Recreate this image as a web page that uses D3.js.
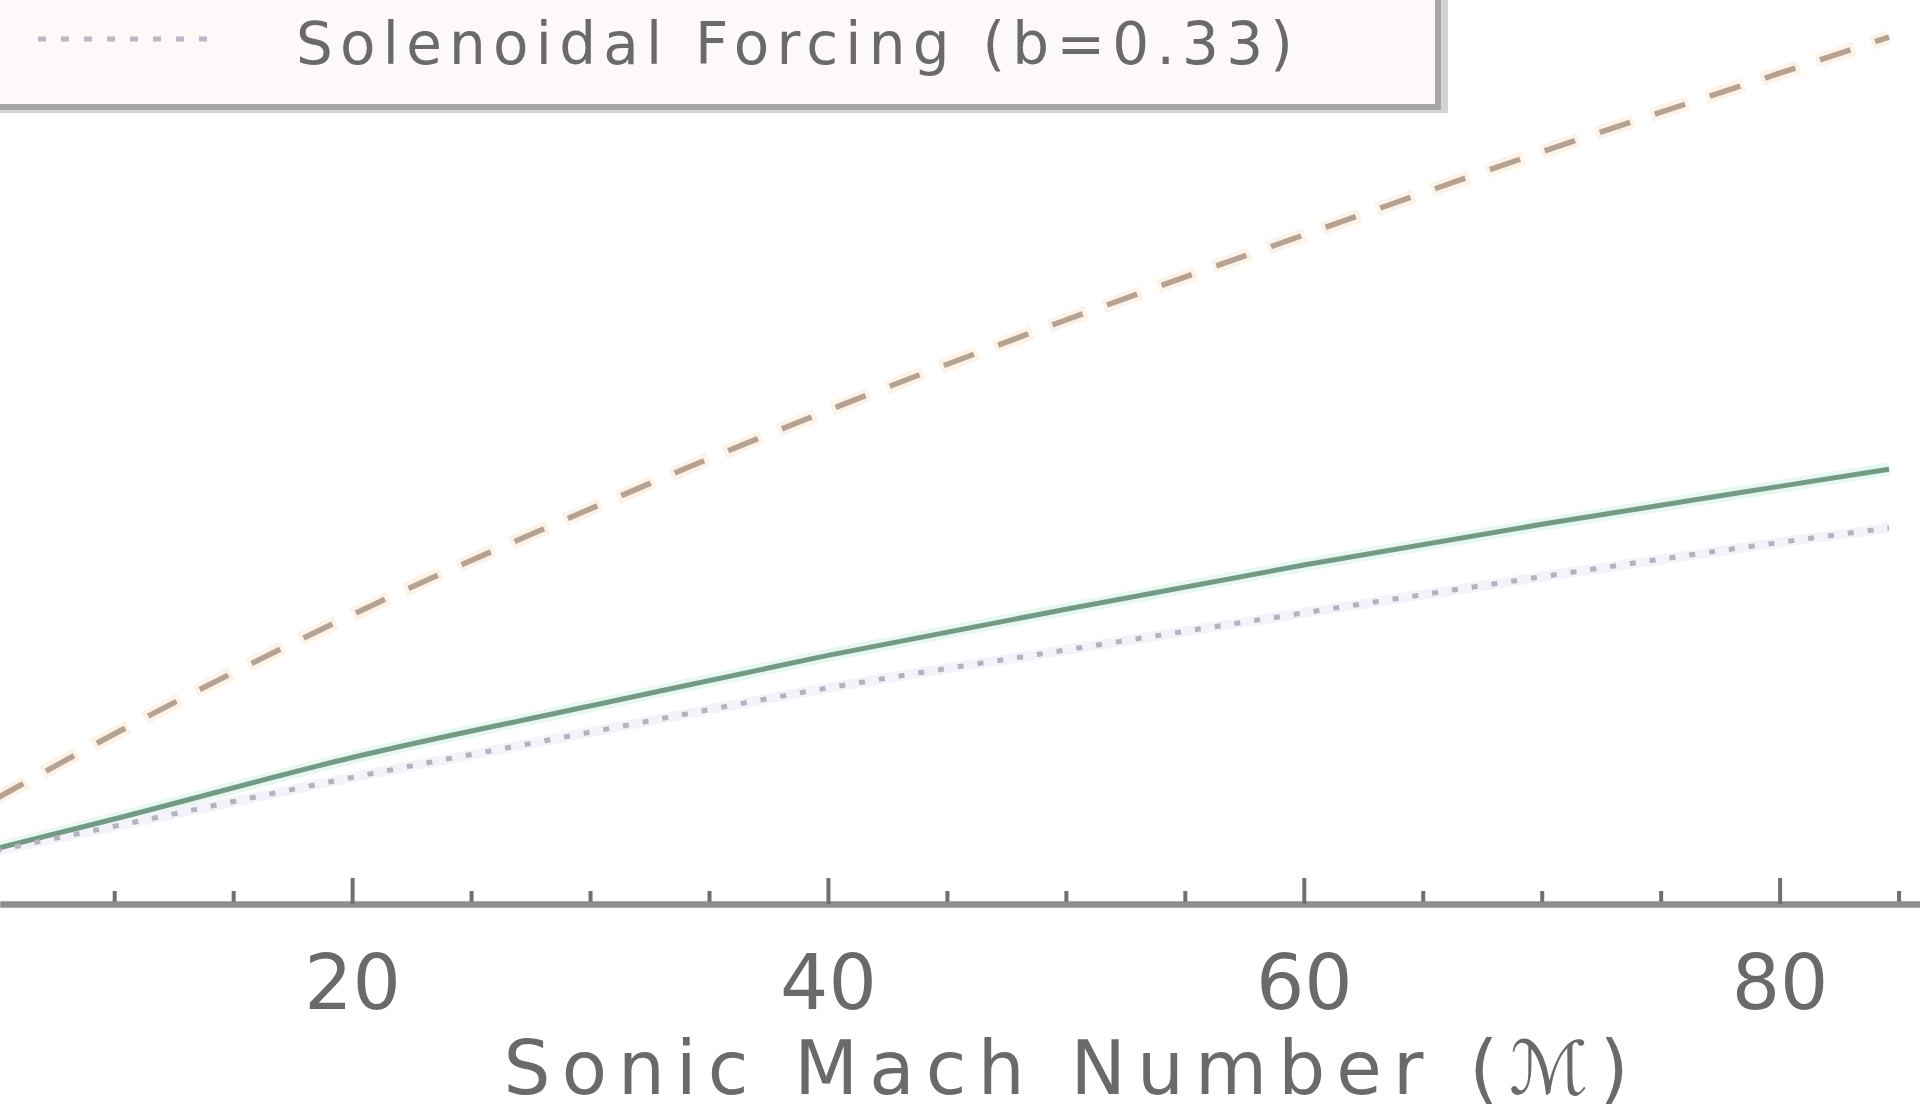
<!DOCTYPE html>
<html>
<head>
<meta charset="utf-8">
<script src="https://cdn.jsdelivr.net/npm/d3@7/dist/d3.min.js"></script>
<style>
  html, body { margin: 0; padding: 0; background: #ffffff; overflow: hidden; }
  svg { display: block; }
  text { font-family: "DejaVu Sans", sans-serif; fill: #6a6a6a; }
</style>
</head>
<body>
<svg id="chart" width="1920" height="1110"></svg>
<script>
// ---- data (y in arbitrary units, axis not shown) ----
const mach = [5, 10, 20, 30, 40, 50, 60, 70, 80, 84.6];
const compressive = [11.6, 18.8, 32.0, 43.7, 54.6, 64.6, 74.0, 83.2, 91.9, 95.9];
const mixed       = [6.1, 9.4, 16.2, 21.9, 27.5, 32.6, 37.5, 42.0, 46.2, 48.1];
const solenoidal  = [5.9, 8.6, 14.0, 19.0, 23.9, 28.1, 32.2, 36.2, 40.0, 41.6];
const majorTicks = [20, 40, 60, 80];
const minorTicks = [10, 15, 25, 30, 35, 45, 50, 55, 65, 70, 75, 85];
const legendLabel = "Solenoidal Forcing (b=0.33)";
const xTitle = "Sonic Mach Number (\u2133)";

const W = 1920, H = 1110;
const axisY = 904;
const svg = d3.select("#chart");

const x = d3.scaleLinear().domain([5.2, 85.9]).range([0, W]);
const y = d3.scaleLinear().domain([0, 100]).range([axisY, 0]);

svg.append("defs").append("clipPath").attr("id", "plotclip")
  .append("rect").attr("x", 0).attr("y", 0).attr("width", W).attr("height", axisY);

const plot = svg.append("g").attr("clip-path", "url(#plotclip)");

const line = d3.line().x((d, i) => x(mach[i])).y(d => y(d)).curve(d3.curveMonotoneX);

// soft halos (colour fringes in the reference)
plot.append("path").datum(compressive).attr("d", line)
  .attr("fill", "none").attr("stroke", "#fdf3e8").attr("stroke-width", 14)
  .attr("stroke-dasharray", "40,18").attr("stroke-dashoffset", 4);
plot.append("path").datum(mixed).attr("d", line)
  .attr("fill", "none").attr("stroke", "#e6f8f1").attr("stroke-width", 13);
plot.append("path").datum(solenoidal).attr("d", line)
  .attr("fill", "none").attr("stroke", "#f3f3f9").attr("stroke-width", 10);

// main strokes
plot.append("path").datum(compressive).attr("d", line)
  .attr("fill", "none").attr("stroke", "#b5a292").attr("stroke-width", 5.5)
  .attr("stroke-dasharray", "32,26");
plot.append("path").datum(mixed).attr("d", line)
  .attr("fill", "none").attr("stroke", "#749a86").attr("stroke-width", 5);
plot.append("path").datum(solenoidal).attr("d", line)
  .attr("fill", "none").attr("stroke", "#b2b2c0").attr("stroke-width", 5)
  .attr("stroke-dasharray", "6,14");

// ---- axis ----
const axMinor = d3.axisBottom(x).tickValues(minorTicks).tickSizeInner(-13)
  .tickSizeOuter(0).tickFormat("");
const axMajor = d3.axisBottom(x).tickValues(majorTicks).tickSizeInner(-26)
  .tickSizeOuter(0).tickPadding(51).tickFormat(d3.format("d"));

const gMin = svg.append("g").attr("transform", `translate(0,${axisY})`).call(axMinor);
const gMaj = svg.append("g").attr("transform", `translate(0,${axisY})`).call(axMajor);
[gMin, gMaj].forEach(g => {
  g.select(".domain").attr("stroke", "#8e8e8e").attr("stroke-width", 6);
  g.selectAll(".tick line").attr("stroke", "#707070").attr("stroke-width", 4);
});
gMaj.selectAll(".tick text")
  .attr("font-size", 76).attr("font-family", "DejaVu Sans, sans-serif")
  .attr("fill", "#666666");

svg.append("text")
  .attr("x", 1066).attr("y", 1094)
  .attr("text-anchor", "middle")
  .attr("font-size", 74)
  .attr("textLength", 1125).attr("lengthAdjust", "spacing")
  .text(xTitle);

// ---- legend (partly outside the picture) ----
const leg = svg.append("g");
leg.append("rect").attr("x", -20).attr("y", -30).attr("width", 1468).attr("height", 143)
  .attr("fill", "#d4d4d4");
leg.append("rect").attr("x", -20).attr("y", -30).attr("width", 1458).attr("height", 137)
  .attr("fill", "#fdf9f8").attr("stroke", "#a8a8a8").attr("stroke-width", 6);
leg.append("line").attr("x1", 38).attr("x2", 216).attr("y1", 39).attr("y2", 39)
  .attr("stroke", "#b8b8c6").attr("stroke-width", 5).attr("stroke-dasharray", "8,15");
leg.append("text").attr("x", 296).attr("y", 64)
  .attr("font-size", 58)
  .attr("textLength", 997).attr("lengthAdjust", "spacing")
  .text(legendLabel);
</script>
</body>
</html>
